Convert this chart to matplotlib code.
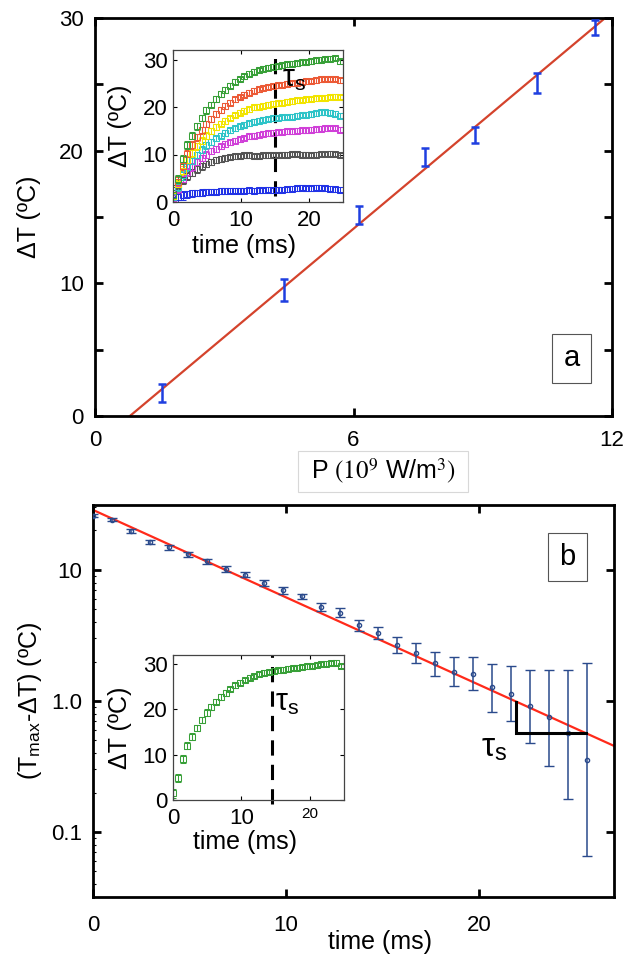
import matplotlib
matplotlib.use('Agg')
import matplotlib.pyplot as plt
from matplotlib.patches import Rectangle
from matplotlib.ticker import LogLocator, NullFormatter
import matplotlib.transforms as mtransforms

plt.rcParams['font.family'] = ['Liberation Sans', 'DejaVu Sans']
plt.rcParams['mathtext.fontset'] = 'stix'

# (a) steady-state temperature rise vs absorbed power density
power = [1.56, 4.39, 6.13, 7.66, 8.82, 10.26, 11.60]
dT = [1.73, 9.5, 15.15, 19.5, 21.2, 25.1, 29.3]
dT_err = [0.65, 0.83, 0.70, 0.67, 0.62, 0.73, 0.57]
fit_a_p = [0.81, 11.84]
fit_a_dT = [0.0, 30.0]

# inset: heating transients, one trace per power level
t_heat = [0.0, 0.7, 1.4, 2.1, 2.8, 3.5, 4.2, 4.9, 5.6, 6.3, 7.0, 7.7, 8.4, 9.1,
          9.8, 10.5, 11.2, 11.9, 12.6, 13.3, 14.0, 14.7, 15.4, 16.1, 16.8, 17.5,
          18.2, 18.9, 19.6, 20.3, 21.0, 21.7, 22.4, 23.1, 23.8, 24.5]
heat_green = [1.5, 4.8, 9.0, 12.0, 14.0, 15.9, 17.7, 19.3, 20.5, 21.7, 22.7, 23.6,
              24.5, 25.3, 25.9, 26.5, 27.0, 27.4, 27.8, 28.1, 28.3, 28.5, 28.6, 28.8,
              29.0, 29.1, 29.2, 29.4, 29.5, 29.6, 29.8, 30.0, 30.1, 30.2, 30.3, 29.6]
heat_red = [1.5, 4.3, 7.6, 10.2, 12.0, 13.6, 15.1, 16.4, 17.5, 18.5, 19.4, 20.2,
            20.9, 21.6, 22.1, 22.6, 23.0, 23.4, 23.7, 24.0, 24.2, 24.4, 24.6, 24.7,
            24.9, 25.0, 25.1, 25.3, 25.4, 25.5, 25.6, 25.8, 25.9, 25.9, 25.9, 25.6]
heat_yellow = [1.2, 3.8, 6.6, 8.8, 10.3, 11.7, 12.9, 14.0, 14.9, 15.8, 16.5, 17.1,
               17.7, 18.3, 18.8, 19.2, 19.5, 19.9, 20.1, 20.3, 20.5, 20.7, 20.8, 20.9,
               21.1, 21.2, 21.4, 21.5, 21.6, 21.7, 21.8, 21.9, 22.0, 22.1, 22.2, 22.1]
heat_cyan = [1.0, 3.2, 5.6, 7.4, 8.7, 9.9, 11.0, 11.9, 12.7, 13.4, 14.0, 14.6,
             15.1, 15.5, 15.9, 16.3, 16.6, 16.9, 17.1, 17.3, 17.5, 17.6, 17.7, 17.8,
             17.9, 18.0, 18.2, 18.3, 18.4, 18.5, 18.7, 18.9, 18.9, 18.8, 18.6, 18.2]
heat_magenta = [0.9, 2.8, 4.8, 6.3, 7.4, 8.4, 9.3, 10.0, 10.7, 11.2, 11.7, 12.2,
                12.6, 12.9, 13.2, 13.5, 13.8, 14.0, 14.2, 14.4, 14.5, 14.6, 14.7, 14.8,
                14.9, 14.9, 15.0, 15.1, 15.1, 15.2, 15.3, 15.4, 15.5, 15.6, 15.6, 15.2]
heat_gray = [2.6, 3.6, 4.6, 5.5, 6.2, 6.9, 7.5, 8.0, 8.4, 8.8, 9.1, 9.3,
             9.5, 9.6, 9.7, 9.8, 9.8, 9.7, 9.7, 9.8, 9.8, 9.9, 9.9, 10.0,
             10.0, 10.1, 10.1, 10.0, 10.0, 9.9, 10.0, 10.1, 10.1, 10.2, 10.1, 9.9]
heat_blue = [0.4, 1.0, 1.4, 1.6, 1.8, 1.9, 2.0, 2.1, 2.2, 2.2, 2.3, 2.3,
             2.4, 2.4, 2.4, 2.4, 2.5, 2.4, 2.5, 2.5, 2.6, 2.5, 2.6, 2.6,
             2.7, 2.8, 2.9, 3.0, 2.9, 2.9, 3.0, 3.0, 2.9, 2.8, 2.7, 2.6]
heat_err = [1.0, 0.9, 0.9, 0.8, 0.8, 0.7, 0.7, 0.7, 0.6, 0.6, 0.6, 0.6,
            0.5, 0.5, 0.5, 0.5, 0.5, 0.5, 0.5, 0.5, 0.5, 0.5, 0.5, 0.5,
            0.5, 0.5, 0.5, 0.5, 0.5, 0.5, 0.5, 0.5, 0.5, 0.5, 0.5, 0.5]
tau_a = 15.0
tau_b = 14.5

# (b) approach to steady state, Tmax - dT on log scale
t_decay = [0.0, 0.99, 1.97, 2.96, 3.94, 4.93, 5.91, 6.90, 7.88, 8.87, 9.85, 10.84,
           11.82, 12.81, 13.79, 14.78, 15.76, 16.75, 17.73, 18.72, 19.70, 20.69,
           21.67, 22.66, 23.64, 24.63, 25.61]
gap = [26.0, 24.2, 19.9, 16.4, 14.9, 13.2, 11.6, 10.2, 9.2, 7.96, 7.0, 6.34,
       5.19, 4.72, 3.80, 3.32, 2.67, 2.31, 1.94, 1.67, 1.61, 1.27,
       1.13, 0.91, 0.76, 0.57, 0.355]
gap_lo = [25.2, 23.5, 19.3, 15.9, 14.3, 12.6, 11.1, 9.7, 8.8, 7.6, 6.6, 6.05,
          4.86, 4.4, 3.44, 2.96, 2.34, 1.94, 1.55, 1.29, 1.21, 0.83,
          0.70, 0.48, 0.32, 0.18, 0.066]
gap_hi = [26.8, 24.9, 20.5, 16.9, 15.5, 13.8, 12.1, 10.7, 9.66, 8.4, 7.38, 6.6,
          5.57, 5.1, 4.15, 3.69, 3.10, 2.75, 2.38, 2.18, 2.16, 1.91,
          1.85, 1.72, 1.72, 1.72, 1.94]
fit_b_t = [0.0, 27.0]
fit_b_gap = [28.7, 0.454]
bracket_t = [21.9, 21.9, 25.55]
bracket_gap = [0.99, 0.567, 0.567]

W, H = 624, 956


def fig_box(x0, y0, x1, y1):
    """pixel box (top-left origin) -> figure fraction [l, b, w, h]"""
    return [x0 / W, 1 - y1 / H, (x1 - x0) / W, (y1 - y0) / H]


def style_inset(ax):
    ax.set_xlim(0, 25)
    ax.set_ylim(0, 32)
    ax.set_xticks([0, 10, 20])
    ax.set_yticks([0, 10, 20, 30])
    ax.tick_params(direction='in', top=True, right=True, length=3, width=0.8,
                   labelsize=16, pad=4)
    ax.tick_params(axis='x', pad=6)
    for s in ax.spines.values():
        s.set_linewidth(0.9)
        s.set_color('#444444')
    ax.set_ylabel('ΔT (ºC)', fontsize=18)
    ax.yaxis.set_label_coords(-0.24, 0.5)
    ax.set_xlabel('time (ms)', fontsize=18)
    ax.xaxis.set_label_coords(0.42, -0.21)


def draw_heat(ax, vals, col):
    ax.errorbar(t_heat, vals, yerr=heat_err, fmt='s', ms=3.9, mfc='none',
                mec=col, mew=0.75, ecolor=col, elinewidth=0.75,
                capsize=2.0, capthick=0.75)


def label_box(text, x0, y0, x1, y1):
    l, b, w, h = fig_box(x0, y0, x1, y1)
    fig.patches.append(Rectangle((l, b), w, h, transform=fig.transFigure,
                                 fill=False, ec='#555555', lw=0.8, zorder=5))
    fig.text(l + w / 2, b + h / 2, text, fontsize=21, ha='center', va='center')


fig = plt.figure(figsize=(W / 100, H / 100), dpi=100)

# ---- panel a ----
ax_a = fig.add_axes(fig_box(95, 18, 612, 416))
ax_a.plot(fit_a_p, fit_a_dT, color='#d4432c', lw=1.6, zorder=2)
ax_a.errorbar(power, dT, yerr=dT_err, fmt='none', ecolor='#1f3fe0',
              elinewidth=1.8, capsize=3.2, capthick=1.8, zorder=3)
ax_a.set_xlim(0, 12)
ax_a.set_ylim(0, 30)
ax_a.set_xticks([0, 6, 12])
ax_a.set_yticks([0, 10, 20, 30])
ax_a.set_yticks([5, 15, 25], minor=True)
ax_a.tick_params(which='both', direction='in', top=True, right=True,
                 length=6, width=2, labelsize=16, pad=8)
ax_a.tick_params(axis='x', pad=10)
for s in ax_a.spines.values():
    s.set_linewidth(2)
ax_a.set_ylabel('ΔT (ºC)', fontsize=18)
ax_a.yaxis.set_label_coords(-0.105, 0.5)

# x label sits in its own light box
l, b, w, h = fig_box(298, 451, 468, 492)
fig.patches.append(Rectangle((l, b), w, h, transform=fig.transFigure,
                             fill=False, ec='#d8d8d8', lw=0.8))
fig.text(l + w / 2, b + h / 2, r'P $(10^9$ W/m$^3)$', fontsize=18,
         ha='center', va='center')
label_box('a', 552, 334, 591, 383)

ins_a = fig.add_axes(fig_box(173, 50, 343, 202))
heat_series = [(heat_blue, '#2233e6'), (heat_gray, '#555555'),
               (heat_magenta, '#d040d8'), (heat_cyan, '#2ec4c8'),
               (heat_yellow, '#f2e400'), (heat_red, '#ec5a36'),
               (heat_green, '#38a038')]
for vals, col in heat_series:
    draw_heat(ins_a, vals, col)
ins_a.axvline(tau_a, ymin=0.04, ymax=0.96, color='k', lw=2.2, dashes=(5, 3))
ins_a.text(tau_a + 1.1, 24.3, r'τ$_{\mathregular{s}}$', fontsize=22,
           va='baseline')
style_inset(ins_a)

# ---- panel b ----
ax_b = fig.add_axes(fig_box(93, 505, 614, 897))
ax_b.set_yscale('log')
ax_b.plot(fit_b_t, fit_b_gap, color='#ff2a1a', lw=1.6, zorder=2)
yerr = [[g - lo for g, lo in zip(gap, gap_lo)],
        [hi - g for g, hi in zip(gap, gap_hi)]]
ax_b.errorbar(t_decay, gap, yerr=yerr, fmt='o', ms=3, mfc='none',
              mec='#2a4a8c', mew=1.0, ecolor='#2a4a8c', elinewidth=1.1,
              capsize=3.6, capthick=1.1, zorder=3)
ax_b.plot(bracket_t, bracket_gap, color='k', lw=2.2, solid_joinstyle='miter',
          zorder=4)
ax_b.text(20.1, 0.38, r'τ$_{\mathregular{s}}$', fontsize=24, va='baseline')
ax_b.set_xlim(0, 27)
ax_b.set_ylim(0.0319, 31.3)
ax_b.set_xticks([0, 10, 20])
ax_b.set_yticks([0.1, 1, 10])
ax_b.set_yticklabels(['0.1', '1.0', '10'])
ax_b.yaxis.set_minor_locator(LogLocator(base=10, subs=range(2, 10)))
ax_b.yaxis.set_minor_formatter(NullFormatter())
ax_b.tick_params(which='major', direction='in', top=True, right=True,
                 length=6, width=2, labelsize=16, pad=8)
ax_b.tick_params(axis='x', pad=13)
ax_b.tick_params(which='minor', direction='in', left=True, right=False,
                 length=2.5, width=0.8)
for s in ax_b.spines.values():
    s.set_linewidth(2)
ax_b.set_ylabel(r'(T$_{\mathregular{max}}$-ΔT) (ºC)', fontsize=18)
ax_b.yaxis.set_label_coords(-0.095, 0.5)
fig.text(380 / W, 1 - 942 / H, 'time (ms)', fontsize=18, ha='center',
         va='center')
label_box('b', 548, 533, 587, 581)

ins_b = fig.add_axes(fig_box(173, 655, 344, 800))
draw_heat(ins_b, heat_green, '#38a038')
ins_b.axvline(tau_b, ymin=-0.03, ymax=1.0, color='k', lw=2.2, dashes=(5, 3),
              clip_on=False)
ins_b.text(tau_b + 0.4, 19.6, r'τ$_{\mathregular{s}}$', fontsize=22,
           va='baseline')
style_inset(ins_b)
ins_b.set_xticklabels(['0', '10', ''])
ins_b.text(20, -0.1, '20', fontsize=11, ha='center', va='center',
           transform=mtransforms.blended_transform_factory(ins_b.transData,
                                                           ins_b.transAxes))

fig.savefig('out.png', dpi=100)
